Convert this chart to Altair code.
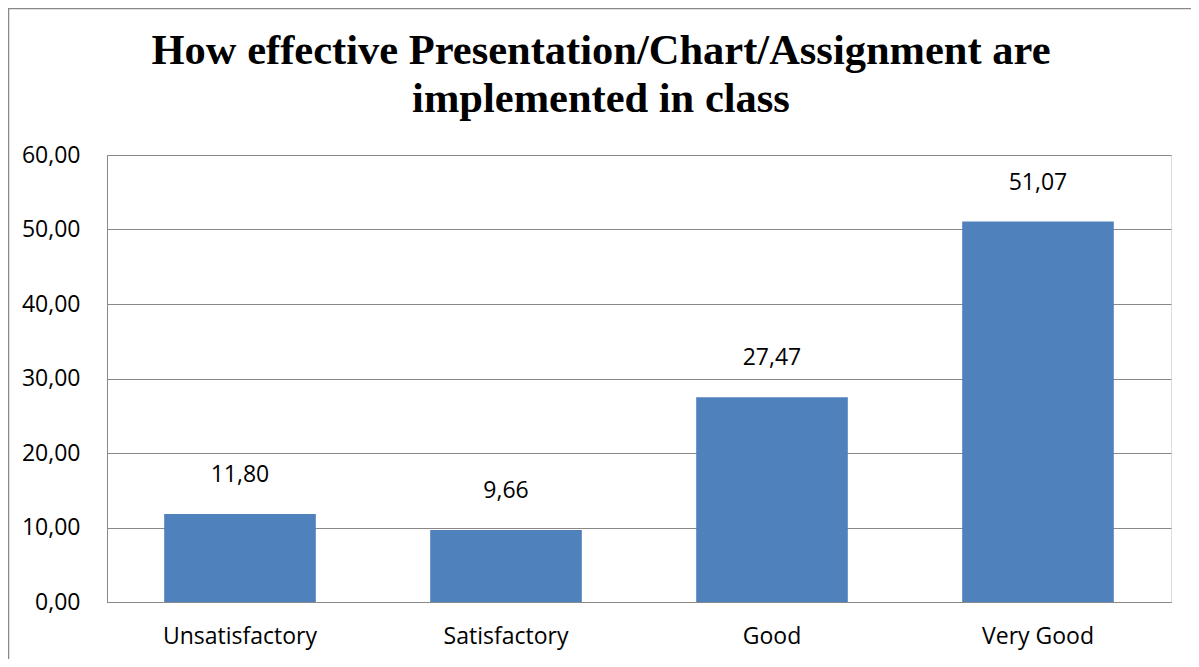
import altair as alt
import pandas as pd

categories = ["Unsatisfactory", "Satisfactory", "Good", "Very Good"]
values = [11.80, 9.66, 27.47, 51.07]
title_lines = ["How effective Presentation/Chart/Assignment are", "implemented in class"]
y_ticks = [0, 10, 20, 30, 40, 50, 60]

df = pd.DataFrame({"category": categories, "value": values})
tdf = pd.DataFrame({"line": title_lines, "row": [0, 1]})

W, H = 1064, 447
FONT = "Open Sans"
FS = 23

x_enc = alt.X("category:N", sort=categories, title=None,
              scale=alt.Scale(paddingInner=0.43, paddingOuter=0.215),
              axis=alt.Axis(labelAngle=0, ticks=False, labelFontSize=FS, labelFont=FONT,
                            labelColor="#000000", labelBaseline="alphabetic", labelPadding=41,
                            domainColor="#888888", domainWidth=1, grid=False))
y_enc = alt.Y("value:Q", title=None,
              scale=alt.Scale(domain=[0, 60], nice=False),
              axis=alt.Axis(values=y_ticks, ticks=False, labelFontSize=FS, labelFont=FONT,
                            labelColor="#000000", labelPadding=27,
                            labelExpr="replace(format(datum.value, '.2f'), '.', ',')",
                            domainColor="#888888", gridColor="#888888", gridWidth=1,
                            gridOpacity=1))

bars = alt.Chart(df).mark_bar(color="#4F81BD").encode(x=x_enc, y=y_enc)

labels = alt.Chart(df).transform_calculate(
    lab="replace(format(datum.value, '.2f'), '.', ',')"
).mark_text(font=FONT, fontSize=FS, color="#000000", baseline="alphabetic", dy=-32).encode(
    x=alt.X("category:N", sort=categories),
    y=alt.Y("value:Q"),
    text="lab:N",
)

t1 = alt.Chart(tdf[tdf.row == 0]).mark_text(font="Liberation Serif", fontWeight="bold", fontSize=42.5,
                                            color="#000000", baseline="alphabetic", align="center").encode(
    x=alt.value(494), y=alt.value(-91), text="line:N")
t2 = alt.Chart(tdf[tdf.row == 1]).mark_text(font="Liberation Serif", fontWeight="bold", fontSize=42.5,
                                            color="#000000", baseline="alphabetic", align="center").encode(
    x=alt.value(494), y=alt.value(-43), text="line:N")

border = alt.Chart(pd.DataFrame({"a": [0]})).mark_rect(fill=None, stroke="#888888", strokeWidth=1.5).encode(
    x=alt.value(-98.5), x2=alt.value(1200), y=alt.value(-146.5), y2=alt.value(560))

chart = alt.layer(bars, labels, t1, t2, border).properties(
    width=W, height=H,
    autosize=alt.AutoSizeParams(type="none"),
    padding={"left": 99, "top": 147, "right": 20, "bottom": 57},
).configure_view(stroke=None).configure(background="#ffffff")

chart.save("out.html", embed_options={"renderer": "svg", "actions": False})
